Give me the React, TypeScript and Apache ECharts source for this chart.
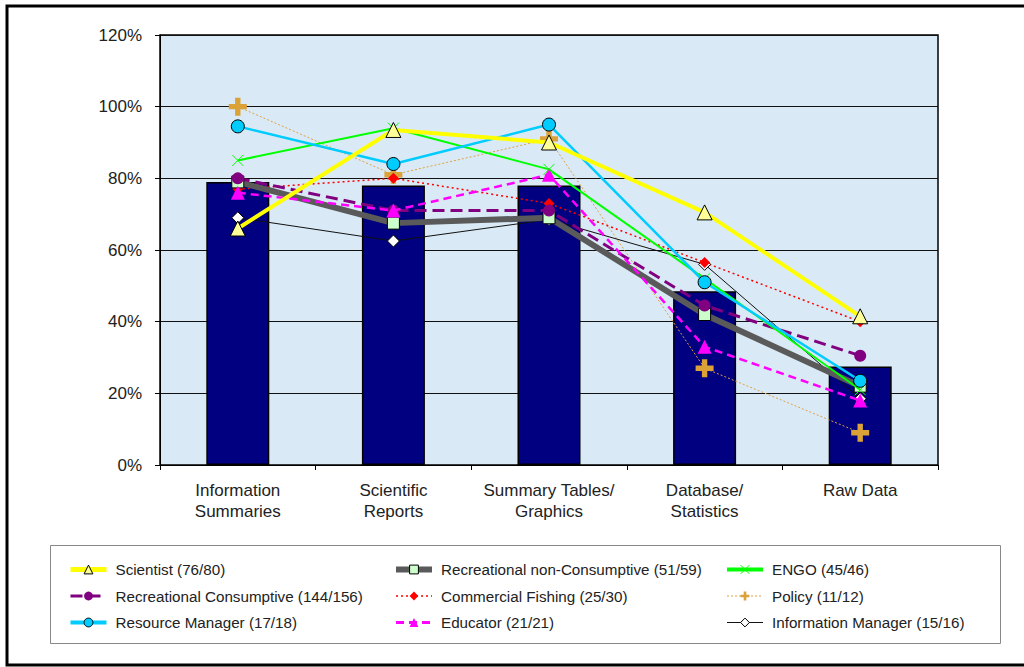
import React, { useEffect, useRef } from "react";
import * as echarts from "echarts";

const categories = [
  "Information\nSummaries",
  "Scientific\nReports",
  "Summary Tables/\nGraphics",
  "Database/\nStatistics",
  "Raw Data",
];
const yTicks = [0, 20, 40, 60, 80, 100, 120];

const overall = [79, 78, 78, 48.5, 27.5];
const scientist = [66, 93.5, 90, 70.5, 41.5];
const recNonConsumptive = [79, 67.5, 69, 42, 22];
const engo = [85, 94, 82.5, 52, 21];
const recConsumptive = [80, 71, 71, 44.5, 30.5];
const commercialFishing = [77, 80, 73, 56.5, 40];
const policy = [100, 81, 91, 27, 9];
const resourceManager = [94.5, 84, 95, 51, 23.5];
const educator = [76, 71, 81, 33, 18];
const infoManager = [69, 62.5, 68.5, 56, 18.5];

const seriesNames = [
  "Scientist (76/80)",
  "Recreational non-Consumptive (51/59)",
  "ENGO (45/46)",
  "Recreational Consumptive (144/156)",
  "Commercial Fishing (25/30)",
  "Policy (11/12)",
  "Resource Manager (17/18)",
  "Educator (21/21)",
  "Information Manager (15/16)",
];

const X_PATH = "path://M0,0L10,10M10,0L0,10";
const PLUS_PATH = "path://M3.5,0H6.5V3.5H10V6.5H6.5V10H3.5V6.5H0V3.5H3.5Z";

export default function App() {
  const ref = useRef<HTMLDivElement>(null);
  useEffect(() => {
    if (!ref.current) return;
    const chart = echarts.init(ref.current, null, { renderer: "svg" });
    const font = "'Liberation Sans', Arial, sans-serif";

    const styles: Record<string, any> = {};
    const line = (
      name: string,
      data: number[],
      color: string,
      width: number,
      type: any,
      symbol: string,
      symbolSize: number,
      fill: string,
      border: string,
      borderWidth: number,
      z: number,
      legendWidth: number
    ) => {
      styles[name] = {
        name,
        lineStyle: { color, width: legendWidth, type, opacity: 1 },
        itemStyle: { color: fill, borderColor: border, borderWidth },
      };
      return {
        name,
        type: "line",
        data,
        symbol,
        symbolSize,
        showAllSymbol: true,
        z,
        lineStyle: { color, width, type },
        itemStyle: { color: fill, borderColor: border, borderWidth },
        emphasis: { disabled: true },
      };
    };

    const series: any[] = [
      {
        type: "bar",
        name: "Overall",
        data: overall,
        barWidth: 63,
        itemStyle: { color: "#000080", borderColor: "#000", borderWidth: 1.5 },
        z: 1,
        silent: true,
      },
      line(seriesNames[5], policy, "#e0a040", 1, [2, 2], PLUS_PATH, 18, "#dba237", "#dba237", 0, 3, 1),
      line(seriesNames[8], infoManager, "#111", 1, "solid", "diamond", 12, "#fff", "#000", 1, 3, 1),
      line(seriesNames[4], commercialFishing, "#ff0000", 1.5, [2, 3], "diamond", 11, "#ff0000", "#ff0000", 0, 3, 1.5),
      line(seriesNames[1], recNonConsumptive, "#5a5a5a", 6, "solid", "rect", 12, "#ccffcc", "#000", 1, 4, 6),
      line(seriesNames[3], recConsumptive, "#800080", 3, [12, 6], "circle", 12, "#800080", "#800080", 0, 4, 3),
      line(seriesNames[7], educator, "#ff00ff", 2.5, [8, 5], "triangle", 14, "#ff00ff", "#ff00ff", 0, 5, 3),
      line(seriesNames[2], engo, "#00ff00", 2, "solid", X_PATH, 11, "#00ff00", "#00ff00", 1, 5, 4),
      line(seriesNames[6], resourceManager, "#00ccff", 2.5, "solid", "circle", 13, "#00ccff", "#000", 1, 5, 4),
      line(seriesNames[0], scientist, "#ffff00", 4, "solid", "triangle", 15, "#ffff99", "#000", 1, 6, 5),
    ];

    const legendBase = {
      orient: "vertical",
      top: 557,
      itemWidth: 36,
      itemHeight: 11,
      itemGap: 11.5,
      padding: 5,
      textStyle: { fontFamily: font, fontSize: 15.2, color: "#222", padding: [0, 0, 0, 4] },
      selectedMode: false,
    };
    const ld = (idx: number[]) => idx.map((i) => styles[seriesNames[i]]);

    chart.setOption({
      animation: false,
      backgroundColor: "#fff",
      textStyle: { fontFamily: font },
      grid: {
        left: 160,
        top: 35,
        right: 86,
        bottom: 202,
        show: true,
        backgroundColor: "#d9eaf6",
        borderColor: "#000",
        borderWidth: 1.5,
      },
      legend: [
        { ...legendBase, left: 63, data: ld([0, 3, 6]) },
        { ...legendBase, left: 388, data: ld([1, 4, 7]) },
        { ...legendBase, left: 720, data: ld([2, 5, 8]) },
      ],
      xAxis: {
        type: "category",
        data: categories,
        boundaryGap: true,
        axisLine: { lineStyle: { color: "#000", width: 1 } },
        axisTick: { show: true, length: 5, alignWithLabel: false, lineStyle: { color: "#000" } },
        axisLabel: {
          color: "#222",
          fontSize: 17,
          fontFamily: font,
          margin: 15,
          lineHeight: 21,
          interval: 0,
        },
      },
      yAxis: {
        type: "value",
        min: yTicks[0],
        max: yTicks[yTicks.length - 1],
        interval: 20,
        axisLine: { show: true, lineStyle: { color: "#000", width: 1 } },
        axisTick: { show: true, length: 5, lineStyle: { color: "#000" } },
        axisLabel: {
          formatter: "{value}%",
          color: "#222",
          fontSize: 17,
          fontFamily: font,
          margin: 18,
        },
        splitLine: { show: true, lineStyle: { color: "#111", width: 1 } },
      },
      graphic: [
        {
          type: "rect",
          shape: { x: 7, y: 6, width: 1030, height: 659 },
          style: { fill: "none", stroke: "#000", lineWidth: 3 },
          silent: true,
          z: 100,
        },
        {
          type: "rect",
          shape: { x: 50.5, y: 545.5, width: 950, height: 98 },
          style: { fill: "none", stroke: "#888", lineWidth: 1 },
          silent: true,
          z: 100,
        },
      ],
      series,
    });
    return () => chart.dispose();
  }, []);
  return (
    <div
      ref={ref}
      style={{ position: "fixed", left: 0, top: 0, width: 1024, height: 667 }}
    />
  );
}
